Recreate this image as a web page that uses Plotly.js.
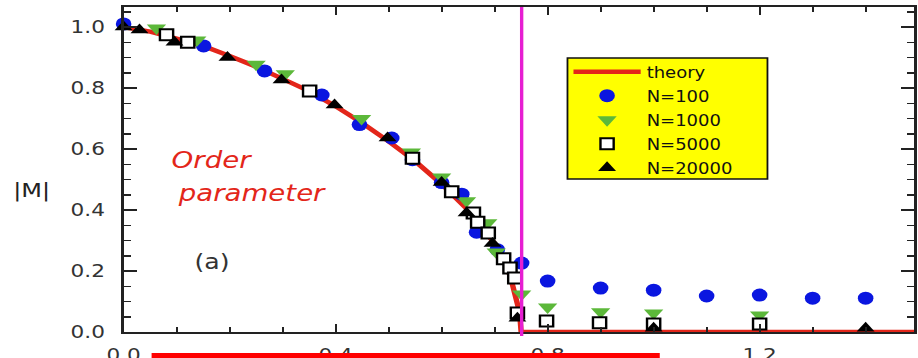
<!DOCTYPE html>
<html>
<head>
<meta charset="utf-8">
<script src="https://cdn.plot.ly/plotly-3.0.1.min.js"></script>
<style>
  html, body { margin: 0; padding: 0; overflow: hidden; background: #fff; }
  #wrap { width: 918px; height: 358px; overflow: hidden; }
  #plot { width: 765px; height: 358px; transform: scaleX(1.2); transform-origin: 0 0; }
</style>
</head>
<body>
<div id="wrap"><div id="plot"></div></div>
<script>
// ---- data ----
const theoryX = [0, 0.05, 0.1, 0.15, 0.2, 0.25, 0.3, 0.35, 0.4, 0.45, 0.5, 0.55, 0.6, 0.65, 0.7, 0.72, 0.73, 0.74, 0.747, 0.75, 1.5];
const theoryY = [1.0, 0.985, 0.962, 0.938, 0.905, 0.87, 0.83, 0.79, 0.74, 0.685, 0.625, 0.56, 0.485, 0.40, 0.29, 0.225, 0.18, 0.12, 0.065, 0.0, 0.0];

const n100X = [0.0, 0.151, 0.266, 0.374, 0.445, 0.506, 0.545, 0.6, 0.638, 0.666, 0.705, 0.751, 0.8, 0.9, 1.0, 1.1, 1.2, 1.3, 1.4];
const n100Y = [1.01, 0.938, 0.856, 0.777, 0.68, 0.636, 0.565, 0.49, 0.452, 0.327, 0.27, 0.226, 0.167, 0.144, 0.137, 0.118, 0.121, 0.111, 0.111];

const n1000X = [0.062, 0.138, 0.25, 0.305, 0.449, 0.543, 0.6, 0.647, 0.687, 0.703, 0.751, 0.8, 0.9, 1.0, 1.2];
const n1000Y = [0.997, 0.957, 0.878, 0.847, 0.70, 0.59, 0.508, 0.43, 0.358, 0.262, 0.125, 0.082, 0.066, 0.062, 0.056];

const n5000X = [0.081, 0.121, 0.351, 0.545, 0.619, 0.66, 0.668, 0.688, 0.717, 0.729, 0.738, 0.743, 0.798, 0.898, 1.0, 1.2, 1.5];
const n5000Y = [0.975, 0.95, 0.79, 0.57, 0.46, 0.39, 0.36, 0.325, 0.24, 0.21, 0.177, 0.062, 0.036, 0.03, 0.026, 0.026, 0.026];

const n20000X = [0.0, 0.03, 0.096, 0.196, 0.298, 0.398, 0.498, 0.6, 0.647, 0.696, 0.743, 1.0, 1.4];
const n20000Y = [1.0, 0.99, 0.95, 0.90, 0.826, 0.744, 0.636, 0.49, 0.39, 0.29, 0.045, 0.012, 0.012];

const criticalX = 0.751;
const seriesNames = ['theory', 'N=100', 'N=1000', 'N=5000', 'N=20000'];
const xTickVals = [0.0, 0.4, 0.8, 1.2];
const yTickVals = [0.0, 0.2, 0.4, 0.6, 0.8, 1.0];

// ---- chart ----
const FONT = 'DejaVu Sans, Liberation Sans, Arial, sans-serif';

const traces = [
  { x: theoryX, y: theoryY, name: seriesNames[0], type: 'scatter', mode: 'lines',
    line: { color: '#e3261a', width: 4.5 }, legendgroup: 'a' },
  { x: n100X, y: n100Y, name: seriesNames[1], type: 'scatter', mode: 'markers', cliponaxis: false,
    marker: { symbol: 'circle', color: '#0a16e0', size: 13 }, legendgroup: 'b' },
  { x: n1000X, y: n1000Y, name: seriesNames[2], type: 'scatter', mode: 'markers', cliponaxis: false,
    marker: { symbol: 'triangle-down', color: '#5cb83a', size: 14 }, legendgroup: 'c' },
  { x: n5000X, y: n5000Y, name: seriesNames[3], type: 'scatter', mode: 'markers', cliponaxis: false,
    marker: { symbol: 'square', color: '#ffffff', size: 11, line: { color: '#000', width: 2 } }, legendgroup: 'd' },
  { x: n20000X, y: n20000Y, name: seriesNames[4], type: 'scatter', mode: 'markers', cliponaxis: false,
    marker: { symbol: 'triangle-up', color: '#000000', size: 13 }, legendgroup: 'e' }
];

const axisCommon = {
  showgrid: false, zeroline: false, showline: true, linecolor: '#222', linewidth: 2,
  mirror: 'allticks', ticks: 'inside', tickcolor: '#222', tickwidth: 1.5,
  tickfont: { family: FONT, size: 18, color: '#333' }, tickformat: '.1f', automargin: false
};

const layout = {
  width: 765, height: 358,
  margin: { l: 103.33, r: 2.67, t: 7, b: 26 },
  paper_bgcolor: '#ffffff', plot_bgcolor: '#ffffff',
  showlegend: true,
  xaxis: Object.assign({}, axisCommon, {
    range: [0, 1.492], tickmode: 'array', tickvals: xTickVals, ticklen: 8, ticklabelstandoff: 5,
    minor: { dtick: 0.1, tick0: 0, ticklen: 5, tickwidth: 1.5, tickcolor: '#222', ticks: 'inside' }
  }),
  yaxis: Object.assign({}, axisCommon, {
    range: [0, 1.0656], tickmode: 'array', tickvals: yTickVals, ticklen: 11, ticklabelstandoff: 10,
    minor: { dtick: 0.05, tick0: 0, ticklen: 6.5, tickwidth: 1.5, tickcolor: '#222', ticks: 'inside' }
  }),
  legend: {
    x: 0.5613, y: 0.851, xanchor: 'left', yanchor: 'top',
    bgcolor: 'rgba(0,0,0,0)', borderwidth: 0,
    font: { family: FONT, size: 15, color: '#111' },
    itemwidth: 56, tracegroupgap: 1.5, traceorder: 'grouped'
  },
  shapes: [
    // legend frame (yellow box)
    { type: 'rect', xref: 'paper', yref: 'paper', x0: 0.5613, x1: 0.8142, y0: 0.4708, y1: 0.8431,
      fillcolor: '#ffff00', line: { color: '#111', width: 1.5 }, layer: 'below' },
    { type: 'line', xref: 'x', yref: 'paper', x0: criticalX, x1: criticalX, y0: -0.012, y1: 1,
      line: { color: '#e61ed2', width: 2.8 }, layer: 'above' },
    { type: 'rect', xref: 'paper', yref: 'paper', x0: 0.0354, x1: 0.678, y0: -0.0646, y1: -0.2,
      fillcolor: '#ff0000', line: { width: 0 }, layer: 'above' }
  ],
  annotations: [
    { text: '|M|', xref: 'paper', yref: 'paper', x: -0.1163, y: 0.437, xanchor: 'center', yanchor: 'middle',
      showarrow: false, font: { family: FONT, size: 20, color: '#222' } },
    { text: 'Order', xref: 'paper', yref: 'paper', x: 0.058, y: 0.529, xanchor: 'left', yanchor: 'middle',
      showarrow: false, font: { family: FONT, size: 23, color: '#e3261a', style: 'italic' } },
    { text: 'parameter', xref: 'paper', yref: 'paper', x: 0.0645, y: 0.428, xanchor: 'left', yanchor: 'middle',
      showarrow: false, font: { family: FONT, size: 23, color: '#e3261a', style: 'italic' } },
    { text: '(a)', xref: 'paper', yref: 'paper', x: 0.111, y: 0.215, xanchor: 'center', yanchor: 'middle',
      showarrow: false, font: { family: FONT, size: 21, color: '#333' } }
  ]
};

Plotly.newPlot('plot', traces, layout, { staticPlot: true, displayModeBar: false });
</script>
</body>
</html>
